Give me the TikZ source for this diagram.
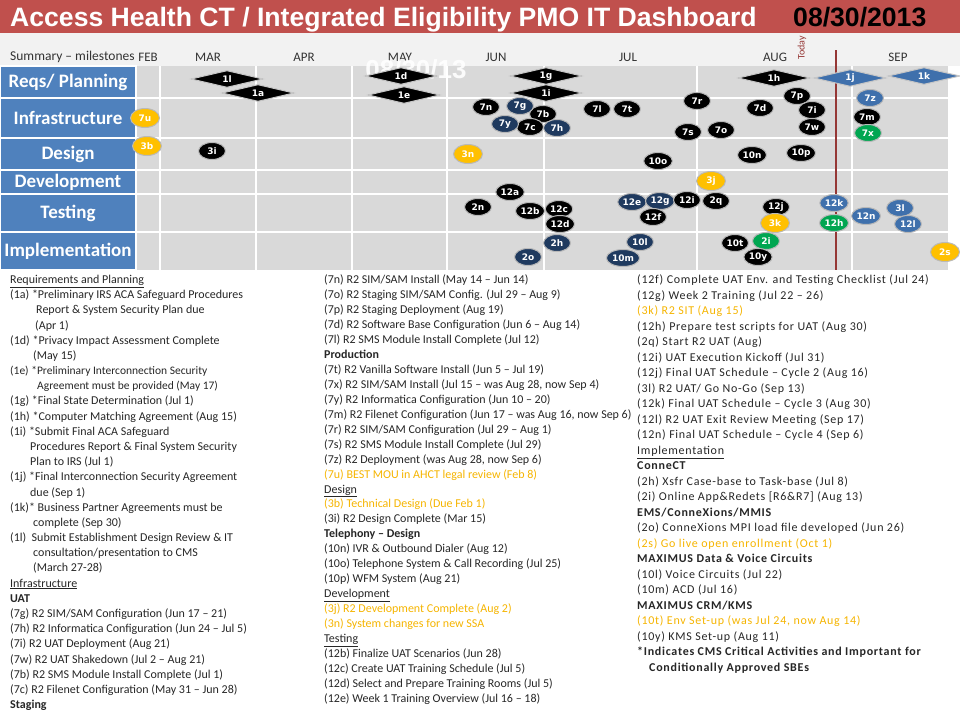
\documentclass[tikz,border=0pt]{standalone}
\usepackage{fontspec}
\setmainfont{Carlito}
\newfontfamily\headfont{Liberation Sans}
\newfontfamily\tagfont{DejaVu Sans}
\usetikzlibrary{shapes.geometric,positioning}

\definecolor{hdrred}{HTML}{C0504D}
\definecolor{rowblue}{HTML}{4F81BD}
\definecolor{ganttgray}{HTML}{D9D9D9}
\definecolor{msnavy}{HTML}{1F3A5F}
\definecolor{mssteel}{HTML}{3F70AC}
\definecolor{msgreen}{HTML}{00A651}
\definecolor{msyellow}{HTML}{FFC000}
\definecolor{todayred}{HTML}{953735}
\definecolor{txtorange}{HTML}{F5B400}
\definecolor{txtgray}{HTML}{262626}

\newcommand{\hot}[1]{\textcolor{txtorange}{#1}}
\newcommand{\ind}[1]{\hspace*{#1pt}}

\begin{document}
\begin{tikzpicture}[x=1pt,y=-1pt,
  rowlbl/.style={rectangle, fill=rowblue, draw=white, line width=1.2pt,
    minimum width=136pt, inner sep=0pt, text=white,
    font=\fontsize{19}{19}\selectfont\bfseries},
  month/.style={font=\fontsize{13}{13}\selectfont, text=black!80},
  gridline/.style={white, line width=1.4pt},
  diam/.style={diamond, aspect=4, minimum width=72pt, minimum height=17pt,
    inner sep=0pt, fill=black, draw=gray!45, line width=1pt, text=white,
    font=\tagfont\bfseries\fontsize{9}{9}\selectfont},
  steeldiam/.style={diam, fill=mssteel},
  ms/.style={ellipse, minimum width=27pt, minimum height=17pt, inner sep=0.8pt,
    fill=black, draw=gray!55, line width=1pt, text=white,
    font=\tagfont\bfseries\fontsize{9}{9}\selectfont},
  navyms/.style={ms, fill=msnavy},
  steelms/.style={ms, fill=mssteel},
  greenms/.style={ms, fill=msgreen},
  yelms/.style={ms, fill=msyellow, minimum width=29pt, minimum height=19pt},
  txtcol/.style={align=left, inner sep=0pt, anchor=north west, text=txtgray}
]
\useasboundingbox (0,0) rectangle (960,720);

% header
\fill[hdrred] (0,0) rectangle (960,33);
\fill[black!5] (0,33) rectangle (960,66);
\node[anchor=base west, inner sep=0pt, text=white,
  font=\headfont\bfseries\fontsize{26.6}{26.6}\selectfont] (title) at (10,27)
  {Access Health CT / Integrated Eligibility PMO IT Dashboard};
\node[anchor=base west, inner sep=0pt, text=black,
  font=\headfont\bfseries\fontsize{26.6}{26.6}\selectfont] (date) at (793,27)
  {08/30/2013};

% chart area
\fill[ganttgray] (136,66) rectangle (948,270);
\foreach \x in {160,256,352,447,544,697,852}
  \draw[gridline] (\x,66) -- (\x,270);
\foreach \y in {98,138,170,194,232}
  \draw[gridline] (136,\y) -- (948,\y);

\node[rowlbl, minimum height=32pt] (reqs) at (68,82) {Reqs/ Planning};
\node[rowlbl, minimum height=40pt] (infra) at (68,118) {Infrastructure};
\node[rowlbl, minimum height=32pt] (design) at (68,154) {Design};
\node[rowlbl, minimum height=24pt] (dev) at (68,182) {Development};
\node[rowlbl, minimum height=38pt] (test) at (68,213) {Testing};
\node[rowlbl, minimum height=38pt] (impl) at (68,251) {Implementation};

\node[month, anchor=west, inner sep=0pt, font=\fontsize{13.5}{13.5}\selectfont]
  (summary) at (10,57) {Summary – milestones};
\node[month] (feb) at (148,57) {FEB};
\node[month] (mar) at (208,57) {MAR};
\node[month] (apr) at (304,57) {APR};
\node[month] (may) at (400,57) {MAY};
\node[month] (jun) at (496,57) {JUN};
\node[month] (jul) at (628,57) {JUL};
\node[month] (aug) at (775,57) {AUG};
\node[month] (sep) at (898,57) {SEP};

\node[text=white, opacity=0.9, inner sep=0pt,
  font=\headfont\bfseries\fontsize{26}{26}\selectfont] (stamp) at (416,69) {08/30/13};

% today marker
\node[rotate=90, inner sep=0pt, text=todayred,
  font=\fontsize{10}{10}\selectfont] (todaylbl) at (802,48) {Today};
\coordinate (todaytop) at (836,50);
\coordinate (todaybot) at (836,270);
\draw[todayred, line width=2pt] (todaytop) -- (todaybot);

% requirements and planning
\node[diam] (m1l) at (227,79) {1l};
\node[diam] (m1a) at (258,93) {1a};
\node[diam] (m1d) at (401,76) {1d};
\node[diam] (m1e) at (404,95) {1e};
\node[diam] (m1g) at (546,76) {1g};
\node[diam] (m1i) at (546,93) {1i};
\node[diam] (m1h) at (774,78) {1h};
\node[steeldiam] (m1j) at (850,78) {1j};
\node[steeldiam] (m1k) at (924,76) {1k};

% infrastructure
\node[yelms] (m7u) at (145,118) {7u};
\node[ms] (m7n) at (486,107) {7n};
\node[ms] (m7b) at (543,114) {7b};
\node[navyms] (m7g) at (520,106) {7g};
\node[ms] (m7c) at (530,127) {7c};
\node[navyms] (m7y) at (505,124) {7y};
\node[navyms] (m7h) at (557,128) {7h};
\node[ms] (m7l) at (597,109) {7l};
\node[ms] (m7t) at (627,109) {7t};
\node[ms] (m7r) at (697,101) {7r};
\node[ms] (m7s) at (688,132) {7s};
\node[ms] (m7o) at (721,130) {7o};
\node[ms] (m7d) at (760,108) {7d};
\node[ms] (m7p) at (797,96) {7p};
\node[ms] (m7i) at (812,110) {7i};
\node[ms] (m7w) at (812,127) {7w};
\node[steelms] (m7z) at (870,98) {7z};
\node[ms] (m7m) at (867,117) {7m};
\node[greenms] (m7x) at (868,133) {7x};

% design
\node[yelms] (m3b) at (147,146) {3b};
\node[ms] (m3i) at (212,151) {3i};
\node[yelms] (m3n) at (468,154) {3n};
\node[ms] (m10o) at (658,161) {10o};
\node[ms] (m10n) at (752,155) {10n};
\node[ms] (m10p) at (801,153) {10p};

% development
\node[yelms] (m3j) at (711,181) {3j};

% testing
\node[ms] (m12a) at (510,192) {12a};
\node[ms] (m2n) at (478,207) {2n};
\node[ms] (m12b) at (530,211) {12b};
\node[ms] (m12c) at (559,209) {12c};
\node[ms] (m12d) at (560,224) {12d};
\node[navyms] (m12e) at (632,202) {12e};
\node[navyms] (m12g) at (660,201) {12g};
\node[ms] (m12i) at (687,200) {12i};
\node[ms] (m12f) at (653,217) {12f};
\node[ms] (m2q) at (716,201) {2q};
\node[ms] (m12j) at (776,207) {12j};
\node[yelms] (m3k) at (775,223) {3k};
\node[steelms] (m12k) at (834,203) {12k};
\node[greenms] (m12h) at (834,223) {12h};
\node[steelms] (m12n) at (866,216) {12n};
\node[steelms] (m3l) at (900,208) {3l};
\node[steelms] (m12l) at (908,224) {12l};

% implementation
\node[navyms] (m2h) at (557,243) {2h};
\node[navyms] (m2o) at (528,257) {2o};
\node[navyms] (m10l) at (640,242) {10l};
\node[navyms] (m10m) at (623,258) {10m};
\node[ms] (m10t) at (735,243) {10t};
\node[greenms] (m2i) at (766,241) {2i};
\node[ms] (m10y) at (758,257) {10y};
\node[yelms] (m2s) at (945,252) {2s};

% legend text
\node[txtcol, font=\fontsize{12}{15.18}\selectfont] (col1) at (10,275) {%
\underline{Requirements and Planning}\\
(1a) *Preliminary IRS ACA Safeguard Procedures\\
\ind{26}Report \& System Security Plan due\\
\ind{25}(Apr 1)\\
(1d) *Privacy Impact Assessment Complete\\
\ind{23}(May 15)\\
{\fontsize{11.5}{15.18}\selectfont (1e) *Preliminary Interconnection Security}\\
\ind{27}{\fontsize{11.5}{15.18}\selectfont Agreement must be provided (May 17)}\\
(1g) *Final State Determination (Jul 1)\\
(1h) *Computer Matching Agreement (Aug 15)\\
(1i) *Submit Final ACA Safeguard\\
\ind{20}Procedures Report \& Final System Security\\
\ind{20}Plan to IRS (Jul 1)\\
(1j) *Final Interconnection Security Agreement\\
\ind{20}due (Sep 1)\\
(1k)* Business Partner Agreements must be\\
\ind{23}complete (Sep 30)\\
(1l)\ \ Submit Establishment Design Review \& IT\\
\ind{23}consultation/presentation to CMS\\
\ind{23}(March 27-28)\\
\underline{Infrastructure}\\
\textbf{UAT}\\
(7g) R2 SIM/SAM Configuration (Jun 17 – 21)\\
(7h) R2 Informatica Configuration (Jun 24 – Jul 5)\\
(7i) R2 UAT Deployment (Aug 21)\\
(7w) R2 UAT Shakedown (Jul 2 – Aug 21)\\
(7b) R2 SMS Module Install Complete (Jul 1)\\
(7c) R2 Filenet Configuration (May 31 – Jun 28)\\
\textbf{Staging}};

\node[txtcol, font=\fontsize{12}{14.93}\selectfont] (col2) at (324,275) {%
(7n) R2 SIM/SAM Install (May 14 – Jun 14)\\
(7o) R2 Staging SIM/SAM Config. (Jul 29 – Aug 9)\\
(7p) R2 Staging Deployment (Aug 19)\\
(7d) R2 Software Base Configuration (Jun 6 – Aug 14)\\
(7l) R2 SMS Module Install Complete (Jul 12)\\
\textbf{Production}\\
(7t) R2 Vanilla Software Install (Jun 5 – Jul 19)\\
(7x) R2 SIM/SAM Install (Jul 15 – was Aug 28, now Sep 4)\\
(7y) R2 Informatica Configuration (Jun 10 – 20)\\
(7m) R2 Filenet Configuration (Jun 17 – was Aug 16, now Sep 6)\\
(7r) R2 SIM/SAM Configuration (Jul 29 – Aug 1)\\
(7s) R2 SMS Module Install Complete (Jul 29)\\
(7z) R2 Deployment (was Aug 28, now Sep 6)\\
\hot{(7u) BEST MOU in AHCT legal review (Feb 8)}\\
\underline{Design}\\
\hot{(3b) Technical Design (Due Feb 1)}\\
(3i) R2 Design Complete (Mar 15)\\
\textbf{Telephony – Design}\\
(10n) IVR \& Outbound Dialer (Aug 12)\\
(10o) Telephone System \& Call Recording (Jul 25)\\
(10p) WFM System (Aug 21)\\
\underline{Development}\\
\hot{(3j) R2 Development Complete (Aug 2)}\\
\hot{(3n) System changes for new SSA}\\
\underline{Testing}\\
(12b) Finalize UAT Scenarios (Jun 28)\\
(12c) Create UAT Training Schedule (Jul 5)\\
(12d) Select and Prepare Training Rooms (Jul 5)\\
(12e) Week 1 Training Overview (Jul 16 – 18)};

\node[txtcol, font=\fontsize{12}{15.5}\selectfont\addfontfeature{LetterSpace=6}]
  (col3) at (637,275) {%
(12f) Complete UAT Env. and Testing Checklist (Jul 24)\\
(12g) Week 2 Training (Jul 22 – 26)\\
\hot{(3k) R2 SIT (Aug 15)}\\
(12h) Prepare test scripts for UAT (Aug 30)\\
(2q) Start R2 UAT (Aug)\\
(12i) UAT Execution Kickoff (Jul 31)\\
(12j) Final UAT Schedule – Cycle 2 (Aug 16)\\
(3l) R2 UAT/ Go No-Go (Sep 13)\\
(12k) Final UAT Schedule – Cycle 3 (Aug 30)\\
(12l) R2 UAT Exit Review Meeting (Sep 17)\\
(12n) Final UAT Schedule – Cycle 4 (Sep 6)\\
\underline{Implementation}\\
\textbf{ConneCT}\\
(2h) Xsfr Case-base to Task-base (Jul 8)\\
(2i) Online App\&Redets [R6\&R7] (Aug 13)\\
\textbf{EMS/ConneXions/MMIS}\\
(2o) ConneXions MPI load file developed (Jun 26)\\
\hot{(2s) Go live open enrollment (Oct 1)}\\
\textbf{MAXIMUS Data \& Voice Circuits}\\
(10l) Voice Circuits (Jul 22)\\
(10m) ACD (Jul 16)\\
\textbf{MAXIMUS CRM/KMS}\\
\hot{(10t) Env Set-up (was Jul 24, now Aug 14)}\\
(10y) KMS Set-up (Aug 11)\\
\textbf{*Indicates CMS Critical Activities and Important for}\\
\ind{12}\textbf{Conditionally Approved SBEs}};
\end{tikzpicture}
\end{document}
